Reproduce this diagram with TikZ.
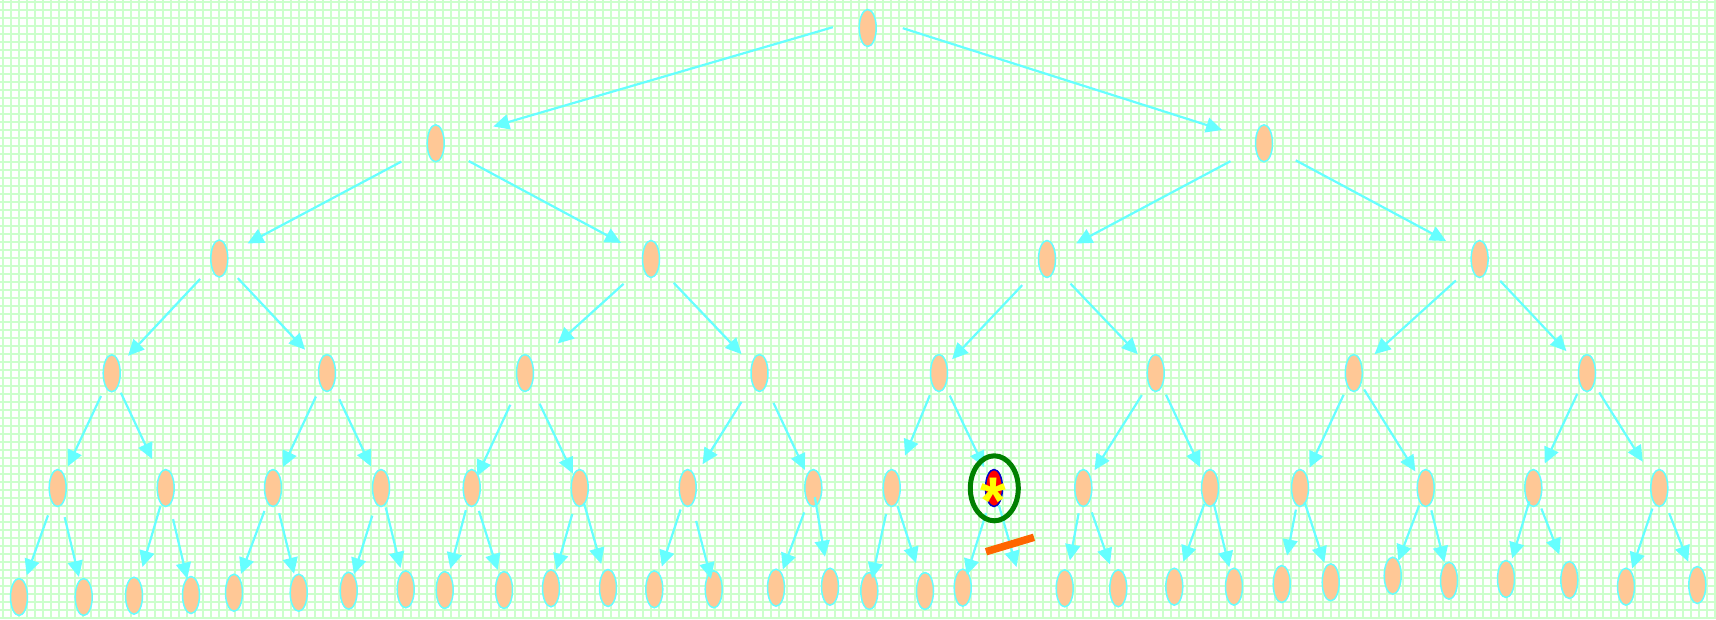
\documentclass[tikz,border=0pt]{standalone}
\usepackage{fontspec}
\newfontfamily\astfont{Liberation Sans}
\usetikzlibrary{arrows.meta,shapes.geometric}
\definecolor{gridg}{RGB}{204,255,204}
\definecolor{peach}{RGB}{255,200,150}
\definecolor{cyanl}{RGB}{102,255,255}
\definecolor{dgreen}{RGB}{0,128,0}
\definecolor{orng}{RGB}{255,102,0}
\definecolor{hblue}{RGB}{0,0,204}
\definecolor{astyel}{RGB}{255,255,0}
\newcommand\myedge[4]{\draw[arr, shorten <=#3pt, shorten >=#4pt] (#1.center) -- (#2.center);}
\begin{document}
\begin{tikzpicture}[x=1pt,y=-1pt,
  tnode/.style={ellipse, draw=cyanl, fill=peach, line width=1.5pt, minimum width=17pt, minimum height=37pt, inner sep=0pt},
  hnode/.style={ellipse, draw=hblue, fill=red, line width=1.5pt, minimum width=17pt, minimum height=37pt, inner sep=0pt},
  arr/.style={draw=cyanl, line width=2.2pt, -{Triangle[length=16pt,width=15pt,fill=cyanl]}},
  gridl/.style={draw=gridg, line width=2.7pt},
  ring/.style={ellipse, draw=dgreen, line width=5pt, minimum width=48pt, minimum height=65pt, inner sep=0pt},
  bar/.style={draw=orng, line width=7.5pt}]
\useasboundingbox (0,0) rectangle (1716,619);
\fill[white] (0,0) rectangle (1716,619);
\foreach \x in {3,11,...,1716} \draw[gridl] (\x,0) -- (\x,619);
\foreach \y in {2,10,...,619} \draw[gridl] (0,\y) -- (1716,\y);

% nodes
\node[tnode] (r) at (867.7,28) {};
\node[tnode] (a1) at (435.7,143.3) {};
\node[tnode] (a2) at (1264,143.3) {};
\node[tnode] (b1) at (219.3,258.5) {};
\node[tnode] (b2) at (651,259) {};
\node[tnode] (b3) at (1047,259) {};
\node[tnode] (b4) at (1479.6,259) {};
\node[tnode] (c1) at (111.7,373.3) {};
\node[tnode] (c2) at (327,373) {};
\node[tnode] (c3) at (525,373) {};
\node[tnode] (c4) at (759.5,373) {};
\node[tnode] (c5) at (939,373) {};
\node[tnode] (c6) at (1155.7,373) {};
\node[tnode] (c7) at (1353.8,373) {};
\node[tnode] (c8) at (1587,373) {};
\node[tnode] (d1) at (57.7,488) {};
\node[tnode] (d2) at (165.7,488) {};
\node[tnode] (d3) at (273,488) {};
\node[tnode] (d4) at (381,488) {};
\node[tnode] (d5) at (471.7,488) {};
\node[tnode] (d6) at (579.7,488) {};
\node[tnode] (d7) at (687.7,488) {};
\node[tnode] (d8) at (813.3,488) {};
\node[tnode] (d9) at (891.7,488) {};
\node[hnode] (h) at (994,488) {};
\node[tnode] (d11) at (1083.3,488) {};
\node[tnode] (d12) at (1210,488) {};
\node[tnode] (d13) at (1300,488) {};
\node[tnode] (d14) at (1425.7,488) {};
\node[tnode] (d15) at (1533.3,488) {};
\node[tnode] (d16) at (1659.3,488) {};
\node[tnode] (e1) at (19,597) {};
\node[tnode] (e2) at (83.7,597) {};
\node[tnode] (e3) at (134,595.7) {};
\node[tnode] (e4) at (191,595) {};
\node[tnode] (e5) at (234,592.7) {};
\node[tnode] (e6) at (298.7,592.7) {};
\node[tnode] (e7) at (348.7,590.7) {};
\node[tnode] (e8) at (405.7,589.3) {};
\node[tnode] (e9) at (444.7,590) {};
\node[tnode] (e10) at (504,590) {};
\node[tnode] (e11) at (551,588.3) {};
\node[tnode] (e12) at (608,588) {};
\node[tnode] (e13) at (654.3,589.3) {};
\node[tnode] (e14) at (713.7,589.3) {};
\node[tnode] (e15) at (776,587.7) {};
\node[tnode] (e16) at (830,586.7) {};
\node[tnode] (e17) at (869.3,591) {};
\node[tnode] (e18) at (925,591) {};
\node[tnode] (e19) at (962.7,587.7) {};
\coordinate (gone) at (1016.5,567);
\node[tnode] (e21) at (1064.7,588.3) {};
\node[tnode] (e22) at (1118.3,588.3) {};
\node[tnode] (e23) at (1174.3,586.7) {};
\node[tnode] (e24) at (1234,586.7) {};
\node[tnode] (e25) at (1281.7,584) {};
\node[tnode] (e26) at (1330.7,582.3) {};
\node[tnode] (e27) at (1392.7,575.7) {};
\node[tnode] (e28) at (1449,580.7) {};
\node[tnode] (e29) at (1506,579) {};
\node[tnode] (e30) at (1569.3,580) {};
\node[tnode] (e31) at (1626,586.7) {};
\node[tnode] (e32) at (1697.3,585) {};

% edges
\draw[arr, shorten <=36.3pt, shorten >=60pt] ([yshift=11pt]r.center) -- (a1.center);
\draw[arr, shorten <=36.8pt, shorten >=44pt] ([yshift=11pt]r.center) -- (a2.center);
\myedge{a1}{b1}{39}{32}
\myedge{a1}{b2}{37.5}{34}
\myedge{a2}{b3}{38}{33}
\myedge{a2}{b4}{36}{38}
\myedge{b1}{c1}{28}{24}
\myedge{b1}{c2}{27}{32}
\myedge{b2}{c3}{37}{44}
\myedge{b2}{c4}{33}{26}
\myedge{b3}{c5}{36}{19}
\myedge{b3}{c6}{34}{26}
\myedge{b4}{c7}{32}{28}
\myedge{b4}{c8}{30}{30}
\myedge{c1}{d1}{25}{24}
\myedge{c1}{d2}{21.5}{32}
\myedge{c2}{d3}{26}{23}
\myedge{c2}{d4}{29}{24}
\myedge{c3}{d5}{35}{13}
\myedge{c3}{d6}{34}{16}
\myedge{c4}{d7}{34}{28}
\myedge{c4}{d8}{33}{20}
\myedge{c5}{d9}{24}{35}
\myedge{c5}{h}{25}{23}
\myedge{c6}{d11}{26}{21}
\myedge{c6}{d12}{24}{23}
\myedge{c7}{d13}{24}{22.5}
\myedge{c7}{d14}{19.5}{19.5}
\myedge{c8}{d15}{23}{27}
\myedge{c8}{d16}{23}{31}
\myedge{d1}{e1}{29}{23}
\myedge{d1}{e2}{30}{20.6}
\myedge{d2}{e3}{19}{30}
\myedge{d2}{e4}{32}{16.7}
\myedge{d3}{e5}{24.5}{20}
\myedge{d3}{e6}{26}{19.5}
\myedge{d4}{e7}{29}{17.3}
\myedge{d4}{e8}{20}{22}
\myedge{d5}{e9}{23}{22}
\myedge{d5}{e10}{24}{21}
\myedge{d6}{e11}{27}{19.4}
\myedge{d6}{e12}{15.4}{25}
\myedge{d7}{e13}{22.6}{24}
\myedge{d7}{e14}{34}{11}
\myedge{d8}{e15}{26}{19.5}
\myedge{d8}{e16}{9.3}{30.4}
\myedge{d9}{e17}{26.6}{12.8}
\myedge{d9}{e18}{19}{29.3}
\myedge{h}{e19}{26.3}{13.3}
\myedge{h}{gone}{18}{0}
\myedge{d11}{e21}{25.7}{28.3}
\myedge{d11}{e22}{25.8}{25.4}
\myedge{d12}{e23}{17}{26.5}
\myedge{d12}{e24}{16}{20}
\myedge{d13}{e25}{22}{29}
\myedge{d13}{e26}{15}{20.6}
\myedge{d14}{e27}{18.7}{16}
\myedge{d14}{e28}{23}{19}
\myedge{d15}{e29}{14}{21.5}
\myedge{d15}{e30}{22}{27.4}
\myedge{d16}{e31}{21.7}{19.2}
\myedge{d16}{e32}{27}{25}

% highlight
\node[text=astyel, font=\astfont\bfseries\fontsize{66}{66}\selectfont, anchor=base, inner sep=0pt] (star) at (993.5,523) {*};
\node[ring] (ringnode) at (994.3,488.3) {};
\draw[bar] (986,551.7) -- (1034,537.3);
\end{tikzpicture}
\end{document}
